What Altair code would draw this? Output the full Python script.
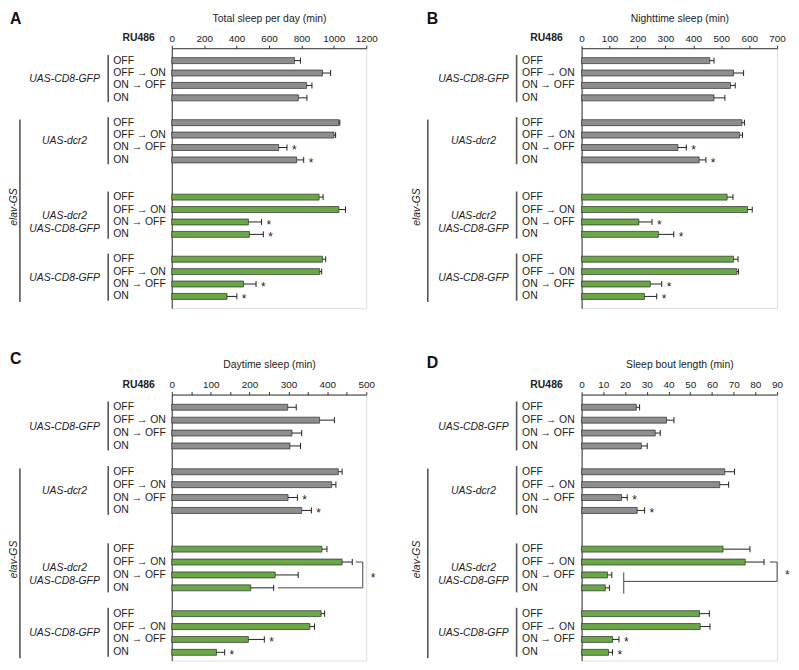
import altair as alt
import pandas as pd

# ---------------- data ----------------
conditions = ["OFF", "OFF → ON", "ON → OFF", "ON"]
genotypes = ["UAS-CD8-GFP", "UAS-dcr2", "UAS-dcr2\nUAS-CD8-GFP", "UAS-CD8-GFP"]
bar_kind = ["control", "control", "GFP", "GFP"]
driver_label = "elav-GS"
treatment_label = "RU486"

total_mean = [757, 930, 832, 781, 1031, 1001, 660, 771, 909, 1031, 473, 479, 930, 913, 443, 341]
total_sem = [37, 50, 33, 53, 6, 10, 51, 43, 25, 41, 81, 86, 20, 12, 77, 61]
night_mean = [459, 544, 533, 474, 574, 566, 345, 421, 521, 594, 205, 275, 544, 556, 246, 225]
night_sem = [15, 36, 17, 39, 9, 10, 30, 24, 21, 17, 47, 55, 16, 6, 41, 44]
day_mean = [298, 380, 309, 304, 428, 411, 299, 334, 386, 438, 266, 203, 384, 355, 197, 115]
day_sem = [22, 38, 25, 27, 10, 11, 24, 25, 13, 26, 59, 59, 9, 12, 41, 21]
bout_mean = [25.2, 39.1, 33.9, 27.5, 65.9, 63.6, 18.4, 25.6, 65.1, 75.3, 11.9, 10.9, 54.3, 54.6, 14.3, 12.4]
bout_sem = [1.5, 3.4, 2.3, 2.7, 4.5, 4.1, 2.6, 3.4, 12.4, 8.7, 2.0, 1.9, 4.5, 4.5, 2.9, 1.8]

stars_total = [6, 7, 10, 11, 14, 15]
stars_night = [6, 7, 10, 11, 14, 15]
stars_day = [6, 7, 14, 15]
stars_bout = [6, 7, 14, 15]

# significance brackets (x in data units, y in row units)
bracket_day = {"x": [473, 491, 273], "x2": [491, 491, 491], "y": [12, 12, 14], "y2": [12, 14, 14],
               "star_x": 491, "star_y": 13}
bracket_bout = {"x": [86.7, 90, 19.4, 19.4], "x2": [90, 90, 90, 19.4], "y": [12, 12, 13.5, 12.8],
                "y2": [12, 13.5, 13.5, 14.45], "star_x": 90, "star_y": 12.75}

# ---------------- styling / layout ----------------
FONT = "Liberation Sans"
INK = "#222222"
GRAY = "#8e8e8e"
GREEN = "#6aa746"
GROUP_START = [0, 5, 11, 16]

OFFS = [
    dict(letter=-163, ru=-17, row=-59, gline=-64, glab=-108, eline=-153, etext=-159),
    dict(letter=-156, ru=-19, row=-60, gline=-65.5, glab=-109, eline=-155, etext=-166),
]


def row_pos(i):
    return GROUP_START[i // 4] + i % 4


def panel(letter, title, mean, sem, stars, xmax, tick_step, label_step, bracket, col,
          width, height, ydom, letter_y):
    off = OFFS[col]
    n = len(mean)
    df = pd.DataFrame({
        "pos": [row_pos(i) for i in range(n)],
        "cond": [conditions[i % 4] for i in range(n)],
        "kind": [bar_kind[i // 4] for i in range(n)],
        "mean": mean,
        "hi": [m + s for m, s in zip(mean, sem)],
        "star": [i in stars for i in range(n)],
    })
    df["cap0"] = df["pos"] - 0.24
    df["cap1"] = df["pos"] + 0.24

    ticks = [t * tick_step for t in range(int(round(xmax / tick_step)) + 1)]
    xs = alt.Scale(domain=[0, xmax], nice=False, zero=True)
    ys = alt.Scale(domain=ydom, reverse=True, nice=False, zero=False)
    xa = alt.Axis(orient="top", values=ticks, title=title, grid=False, tickSize=3, format="d",
                  labelPadding=2, labelFlush=False, labelOverlap=False,
                  labelExpr=f"datum.value % {label_step} == 0 ? datum.label : ''",
                  domainColor="#333333", tickColor="#333333", labelColor=INK, titleColor=INK,
                  labelFontSize=10, titleFontSize=10.5, titleFontWeight="normal",
                  titlePadding=10, labelFont=FONT, titleFont=FONT)
    ya = alt.Axis(domain=True, ticks=False, labels=False, title=None, grid=False,
                  domainColor="#333333", domainWidth=1)

    def X(f):
        return alt.X(f, type="quantitative", scale=xs, axis=xa)

    def Y(f):
        return alt.Y(f, type="quantitative", scale=ys, axis=ya)

    base = alt.Chart(df)
    bars = base.mark_bar(orient="horizontal", size=6, stroke="#2b2b2b", strokeWidth=0.7).encode(
        x=X("mean"), y=Y("pos"),
        color=alt.Color("kind:N", scale=alt.Scale(domain=["control", "GFP"], range=[GRAY, GREEN]),
                        legend=None))
    err = base.mark_rule(color=INK, strokeWidth=1).encode(x=X("mean"), x2="hi", y=Y("pos"))
    caps = base.mark_rule(color=INK, strokeWidth=1).encode(x=X("hi"), y=Y("cap0"), y2="cap1")
    star = base.transform_filter("datum.star").mark_text(
        text="*", align="left", baseline="middle", dx=5, dy=3, fontSize=12, font=FONT, color=INK
    ).encode(x=X("hi"), y=Y("pos"))
    rowlab = base.mark_text(align="left", baseline="middle", fontSize=10.5, font=FONT, color=INK).encode(
        x=alt.value(off["row"]), y=Y("pos"), text="cond:N")

    gdf = pd.DataFrame({
        "label": genotypes,
        "top": [g - 0.45 for g in GROUP_START],
        "bot": [g + 3.35 for g in GROUP_START],
        "mid": [g + 1.5 for g in GROUP_START],
    })
    gline = alt.Chart(gdf).mark_rule(color="#555555", strokeWidth=1.6).encode(
        x=alt.value(off["gline"]), y=Y("top"), y2="bot")
    glab = alt.Chart(gdf).mark_text(align="center", baseline="middle", fontStyle="italic",
                                    lineBreak="\n", lineHeight=13, fontSize=10.5, font=FONT,
                                    color=INK).encode(
        x=alt.value(off["glab"]), y=Y("mid"), text="label:N")

    etop = GROUP_START[1] - 0.25
    ebot = GROUP_START[3] + 3.45
    edf = pd.DataFrame({"label": [driver_label], "top": [etop], "bot": [ebot], "mid": [(etop + ebot) / 2 - 0.3]})
    eline = alt.Chart(edf).mark_rule(color="#555555", strokeWidth=1.6).encode(
        x=alt.value(off["eline"]), y=Y("top"), y2="bot")
    etext = alt.Chart(edf).mark_text(angle=270, align="center", baseline="middle", fontStyle="italic",
                                     fontSize=10.5, font=FONT, color=INK).encode(
        x=alt.value(off["etext"]), y=Y("mid"), text="label:N")

    let = alt.Chart(pd.DataFrame({"t": [letter]})).mark_text(
        align="left", baseline="alphabetic", fontSize=16, fontWeight="bold", font=FONT, color="#111111"
    ).encode(x=alt.value(off["letter"]), y=alt.value(letter_y), text="t:N")
    ru = alt.Chart(pd.DataFrame({"t": [treatment_label]})).mark_text(
        align="right", baseline="alphabetic", fontSize=10.5, fontWeight="bold", font=FONT, color=INK
    ).encode(x=alt.value(off["ru"]), y=alt.value(-7), text="t:N")

    layers = [bars, err, caps, star, rowlab, gline, glab, eline, etext, let, ru]

    if bracket is not None:
        bdf = pd.DataFrame({"x": bracket["x"], "x2": bracket["x2"], "y": bracket["y"], "y2": bracket["y2"]})
        layers.append(alt.Chart(bdf).mark_rule(color="#444444", strokeWidth=1).encode(
            x=X("x"), x2="x2", y=Y("y"), y2="y2"))
        sdf = pd.DataFrame({"x": [bracket["star_x"]], "y": [bracket["star_y"]]})
        layers.append(alt.Chart(sdf).mark_text(text="*", align="left", baseline="middle", dx=8, dy=3,
                                               fontSize=12, font=FONT, color=INK).encode(
            x=X("x"), y=Y("y")))

    return alt.layer(*layers).properties(width=width, height=height)


pA = panel("A", "Total sleep per day (min)", total_mean, total_sem, stars_total, 1200, 200, 200,
           None, 0, 196, 262, [-0.6, 19.55], -24)
pB = panel("B", "Nighttime sleep (min)", night_mean, night_sem, stars_night, 700, 100, 100,
           None, 1, 197, 262, [-0.6, 19.55], -24)
pC = panel("C", "Daytime sleep (min)", day_mean, day_sem, stars_day, 500, 50, 100,
           bracket_day, 0, 196, 268, [-0.6, 19.25], -31)
pD = panel("D", "Sleep bout length (min)", bout_mean, bout_sem, stars_bout, 90, 10, 10,
           bracket_bout, 1, 197, 268, [-0.6, 19.25], -27)

chart = alt.concat(pA, pB, pC, pD, columns=2, spacing={"row": 87, "column": 217},
                   bounds="flush").properties(padding=0).configure_view(stroke=None).configure(font=FONT)

chart.save("out.html", embed_options={"renderer": "svg", "actions": False})
